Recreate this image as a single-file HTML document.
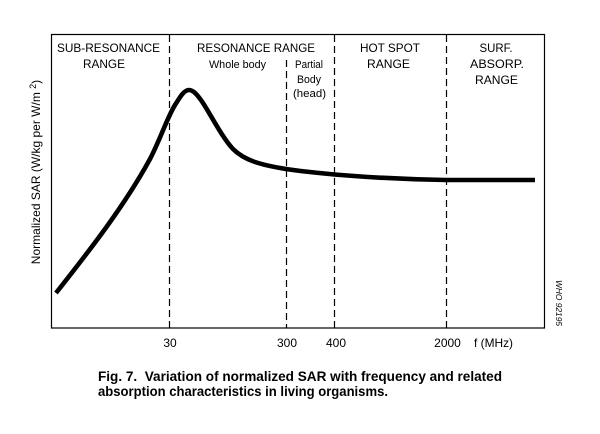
<!DOCTYPE html>
<html>
<head>
<meta charset="utf-8">
<style>
html,body{margin:0;padding:0;background:#fff;}
svg{display:block;}
text{font-family:"Liberation Sans",Arial,sans-serif;fill:#000;}
</style>
</head>
<body>
<svg width="600" height="434" viewBox="0 0 600 434" xmlns="http://www.w3.org/2000/svg">
  <rect x="0" y="0" width="600" height="434" fill="#fff"/>
  <!-- box -->
  <rect x="51.5" y="34.5" width="493" height="293.5" fill="none" stroke="#000" stroke-width="1.2"/>
  <!-- dashed dividers -->
  <g stroke="#000" stroke-width="1.2" stroke-dasharray="7,4">
    <line x1="169.5" y1="35" x2="169.5" y2="328"/>
    <line x1="286.5" y1="60" x2="286.5" y2="328"/>
    <line x1="334.5" y1="35" x2="334.5" y2="328"/>
    <line x1="446.5" y1="35" x2="446.5" y2="328"/>
  </g>
  <!-- curve -->
  <path fill="none" stroke="#000" stroke-width="4.6" stroke-linejoin="round" stroke-linecap="butt"
    d="M56,293 C90,250 125,205 150,159 C160,140 167,118 175,105 C180,97 184,90 189,90 C193,90 197,94 203,103 C212,117 222,137 233,149 C245,161 262,165 286,169 C320,174 380,179 446,180 L535,180"/>
  <!-- region labels -->
  <g font-size="12" text-anchor="middle">
    <text x="108.5" y="52" textLength="103" lengthAdjust="spacingAndGlyphs">SUB-RESONANCE</text>
    <text x="104" y="68" textLength="42" lengthAdjust="spacingAndGlyphs">RANGE</text>
    <text x="256" y="52" textLength="118" lengthAdjust="spacingAndGlyphs">RESONANCE RANGE</text>
    <text x="390" y="52" textLength="60" lengthAdjust="spacingAndGlyphs">HOT SPOT</text>
    <text x="388.5" y="68" textLength="43" lengthAdjust="spacingAndGlyphs">RANGE</text>
    <text x="496" y="52" textLength="33" lengthAdjust="spacingAndGlyphs">SURF.</text>
    <text x="497" y="68" textLength="54" lengthAdjust="spacingAndGlyphs">ABSORP.</text>
    <text x="496.5" y="84" textLength="43" lengthAdjust="spacingAndGlyphs">RANGE</text>
  </g>
  <g font-size="11" text-anchor="middle">
    <text x="237.5" y="68" textLength="57" lengthAdjust="spacingAndGlyphs">Whole body</text>
    <text x="309" y="68" textLength="28" lengthAdjust="spacingAndGlyphs">Partial</text>
    <text x="309" y="83" textLength="24" lengthAdjust="spacingAndGlyphs">Body</text>
    <text x="309.5" y="97" textLength="33" lengthAdjust="spacingAndGlyphs">(head)</text>
  </g>
  <!-- y axis label -->
  <text transform="translate(40,172) rotate(-90)" font-size="12" text-anchor="middle">Normalized SAR (W/kg per W/m <tspan font-size="9" dy="-4">2</tspan><tspan dy="4">)</tspan></text>
  <!-- x tick labels -->
  <g font-size="12" text-anchor="middle">
    <text x="170" y="347">30</text>
    <text x="287" y="347">300</text>
    <text x="336" y="347">400</text>
    <text x="447.5" y="347">2000</text>
  </g>
  <text x="474" y="347" font-size="12" textLength="39" lengthAdjust="spacingAndGlyphs">f (MHz)</text>
  <!-- watermark -->
  <text transform="translate(556,303) rotate(90)" font-size="8" font-style="italic" text-anchor="middle" textLength="46" lengthAdjust="spacingAndGlyphs">WHO 92195</text>
  <!-- caption -->
  <g font-size="14" font-weight="bold">
    <text x="98" y="381" textLength="404" lengthAdjust="spacingAndGlyphs">Fig. 7.&#160; Variation of normalized SAR with frequency and related</text>
    <text x="98" y="396" textLength="290" lengthAdjust="spacingAndGlyphs">absorption characteristics in living organisms.</text>
  </g>
</svg>
</body>
</html>
